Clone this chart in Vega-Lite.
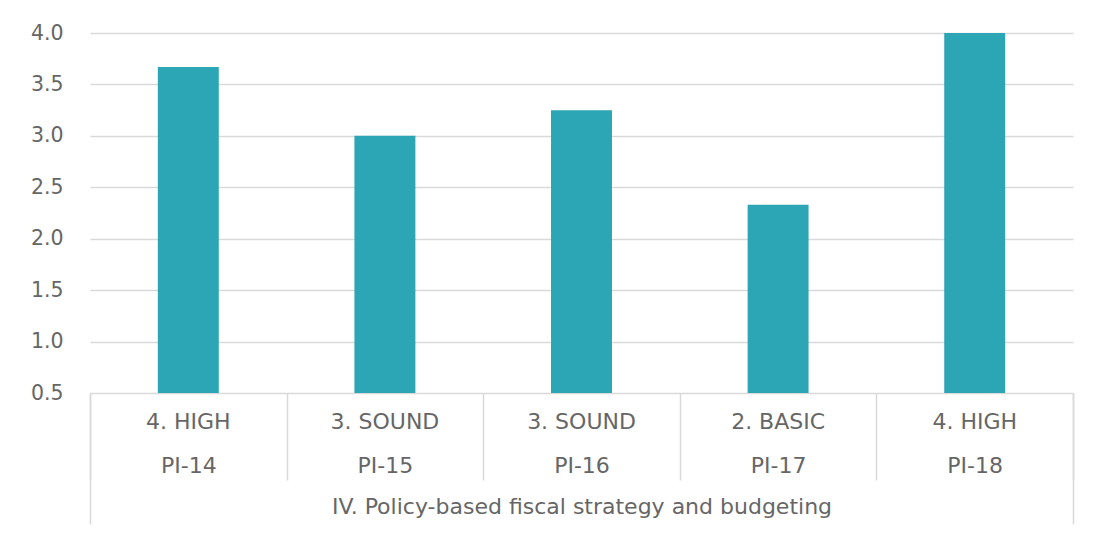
{
  "$schema": "https://vega.github.io/schema/vega-lite/v6.json",
  "width": 983,
  "height": 360,
  "autosize": {"type": "none"},
  "padding": {"left": 90, "top": 33, "right": 24, "bottom": 140},
  "background": "white",
  "config": {"view": {"stroke": null}, "font": "DejaVu Sans"},
  "data": {
    "values": [
      {"pi": "PI-14", "rating": "4. HIGH", "score": 3.67},
      {"pi": "PI-15", "rating": "3. SOUND", "score": 3.0},
      {"pi": "PI-16", "rating": "3. SOUND", "score": 3.25},
      {"pi": "PI-17", "rating": "2. BASIC", "score": 2.33},
      {"pi": "PI-18", "rating": "4. HIGH", "score": 4.0}
    ]
  },
  "layer": [
    {
      "mark": {"type": "bar", "color": "#2CA5B5", "width": {"band": 0.31}, "clip": true},
      "encoding": {
        "x": {
          "field": "pi",
          "type": "nominal",
          "sort": null,
          "scale": {"paddingInner": 0, "paddingOuter": 0},
          "axis": {
            "orient": "bottom",
            "title": "IV. Policy-based fiscal strategy and budgeting",
            "titleFont": "DejaVu Sans",
            "titleFontSize": 22,
            "titleFontWeight": "normal",
            "titleColor": "#666666",
            "titlePadding": 16,
            "labelFont": "DejaVu Sans",
            "labelFontSize": 22,
            "labelColor": "#666666",
            "labelAngle": 0,
            "labelBaseline": "middle",
            "labelPadding": -15,
            "tickBand": "extent",
            "tickSize": 87,
            "tickColor": "#d9d9d9",
            "tickWidth": 1.5,
            "domain": false,
            "grid": false
          }
        },
        "y": {
          "field": "score",
          "type": "quantitative",
          "scale": {"domain": [0.5, 4], "nice": false, "zero": false},
          "axis": {
            "title": null,
            "values": [0.5, 1, 1.5, 2, 2.5, 3, 3.5, 4],
            "format": ".1f",
            "grid": true,
            "gridColor": "#d9d9d9",
            "gridWidth": 1.5,
            "domain": false,
            "ticks": false,
            "labelPadding": 27,
            "labelFont": "DejaVu Sans",
            "labelFontSize": 20.5,
            "labelColor": "#666666"
          }
        }
      }
    },
    {
      "mark": {"type": "text", "baseline": "middle", "align": "center", "dy": 29, "fontSize": 22, "font": "DejaVu Sans", "color": "#666666"},
      "encoding": {
        "x": {
          "field": "pi",
          "type": "nominal",
          "sort": null,
          "axis": {
            "orient": "bottom",
            "title": null,
            "labels": false,
            "domain": false,
            "grid": false,
            "tickBand": "extent",
            "tickSize": 131,
            "tickColor": "#d9d9d9",
            "tickWidth": 1.5,
            "tickOpacity": {"condition": {"test": "datum.index === 1 || datum.index === -1", "value": 1}, "value": 0}
          }
        },
        "y": {"datum": 0.5},
        "text": {"field": "rating"}
      }
    }
  ],
  "resolve": {"axis": {"x": "independent"}}
}
